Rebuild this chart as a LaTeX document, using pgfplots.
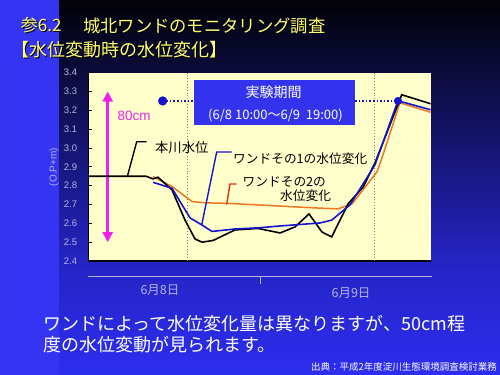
\documentclass[border=0pt]{standalone}
\usepackage{pgfplots}
\pgfplotsset{compat=1.18}
\usetikzlibrary{arrows.meta}
\usepackage{fontspec}
\setmainfont{Liberation Sans}
\newfontfamily\jp{Noto Sans CJK JP}
\definecolor{chartbg}{HTML}{FFFFCC}
\definecolor{ticklab}{HTML}{B4B4E6}
\definecolor{boxblue}{HTML}{3333EE}
\definecolor{sorange}{HTML}{EE7722}
\definecolor{sblue}{HTML}{1414CC}
\definecolor{amag}{HTML}{F020E8}
\definecolor{tyellow}{HTML}{FFFF70}
\definecolor{bgtop}{HTML}{020208}
\definecolor{bgdark}{HTML}{0A0A3C}
\definecolor{bgmid}{HTML}{2424C4}
\definecolor{bgbot}{HTML}{2D2DF0}
\definecolor{stripA}{HTML}{3434F2}
\definecolor{stripB}{HTML}{1E1EA0}
\definecolor{sq}{HTML}{3C3CE8}
\definecolor{leadred}{HTML}{E03010}
\newcommand{\fs}[1]{\fontsize{#1bp}{#1bp}\selectfont}
\begin{document}
\begin{tikzpicture}
\useasboundingbox (0,0) rectangle (500bp,-375bp);
\begin{scope}[x=1bp,y=-1bp]
% background
\shade[top color=bgtop, middle color=bgdark, bottom color=bgmid] (58,0) rectangle (500,261);
\shade[top color=bgmid, bottom color=bgbot] (58,260.5) rectangle (500,375);
\shade[top color=stripA, middle color=stripB, bottom color=stripA] (0,0) rectangle (58.5,375);
\foreach \i in {0,...,20} {\fill[sq, opacity=0.35] (4,{66+\i*12}) rectangle ++(8,8);}
% title
\node[anchor=west, inner sep=0, text=black] at (21.7,26.5) {\jp\fs{17}参6.2};
\node[anchor=west, inner sep=0, text=tyellow] at (20.7,25.5) {\jp\fs{17}参6.2};
\node[anchor=west, inner sep=0, text=black] at (84,26.5) {\jp\fs{17.3}城北ワンドのモニタリング調査};
\node[anchor=west, inner sep=0, text=tyellow] at (83,25.5) {\jp\fs{17.3}城北ワンドのモニタリング調査};
\node[anchor=west, inner sep=0, text=black] at (12,51) {\jp\fs{18}【水位変動時の水位変化】};
\node[anchor=west, inner sep=0, text=tyellow] at (11,50) {\jp\fs{18}【水位変動時の水位変化】};
\end{scope}
\begin{axis}[
  at={(88.3bp,-261bp)}, anchor=south west,
  width=342.4bp, height=188.3bp, scale only axis,
  xmin=0, xmax=48, ymin=2.4, ymax=3.4,
  axis background/.style={fill=chartbg},
  axis x line*=bottom, axis y line*=left,
  axis line style={black, line width=1.2pt},
  xtick=\empty, minor xtick={0,3,...,48},
  ytick={2.4,2.5,2.6,2.7,2.8,2.9,3.0,3.1,3.2,3.3,3.4},
  tick align=inside, major tick length=3.5bp, minor tick length=3.5bp,
  tick style={black, line width=0.8pt},
  /pgf/number format/assume math mode=true,
  yticklabel style={font=\fs{9.5}, text=ticklab, inner sep=0pt, xshift=-11bp,
    /pgf/number format/fixed, /pgf/number format/precision=1, /pgf/number format/fixed zerofill},
]
\draw[gray, dotted, line width=0.9pt] (axis cs:13.93,2.4) -- (axis cs:13.93,3.4);
\draw[gray, dotted, line width=0.9pt] (axis cs:40.05,2.4) -- (axis cs:40.05,3.4);
% magenta arrow (80cm)
\addplot[amag, line width=3.2pt, {Triangle[width=10bp,length=10bp]}-{Triangle[width=10bp,length=10bp]}] coordinates {(2.72,2.5) (2.72,3.3)};
% experiment period markers
\addplot[sblue, dotted, line width=1.6pt, mark=*, mark size=3.8bp, mark indices={1}, mark options={solid, fill=sblue}] coordinates {(10.43,3.25) (14.82,3.25)};
\addplot[sblue, dotted, line width=1.6pt] coordinates {(37.39,3.25) (43.42,3.25)};
% series
\addplot[sorange, line width=1.5pt] coordinates {
(9.07,2.849) (11.73,2.796) (14.54,2.716) (16.36,2.709) (19.58,2.706) (31.78,2.682)
(35.0,2.677) (36.97,2.703) (40.47,2.873) (41.17,2.948) (43.69,3.240) (48,3.19)};
\addplot[black, line width=1.6pt] coordinates {
(0,2.85) (8.1,2.85) (9.07,2.836) (9.77,2.845) (11.73,2.778) (13.55,2.618) (14.96,2.517)
(15.94,2.500) (17.48,2.509) (20.57,2.565) (23.79,2.573) (26.88,2.549) (28.98,2.581)
(30.94,2.650) (32.76,2.554) (34.12,2.528) (36.41,2.703) (38.55,2.794) (40.19,2.921)
(43.94,3.283) (48,3.235)};
\addplot[sblue, line width=1.6pt] coordinates {
(9.07,2.818) (11.73,2.786) (14.26,2.629) (15.94,2.591) (17.34,2.557) (20.57,2.570)
(23.79,2.576) (26.87,2.586) (29.68,2.594) (32.48,2.602) (34.12,2.617) (36.69,2.698)
(40.19,2.911) (43.41,3.251) (48,3.203)};
\addplot[sblue, only marks, mark=*, mark size=3.8bp] coordinates {(43.42,3.25)};
\end{axis}
\begin{scope}[x=1bp,y=-1bp]
% period box
\fill[boxblue] (194,80) rectangle (355,125);
\node[text=white, inner sep=0] at (273.5,92) {\jp\fs{14}実験期間};
\node[text=white, inner sep=0] at (275.5,115) {\jp\fs{13}(6/8 10:00〜6/9\ \ 19:00)};
% 80cm label
\node[anchor=west, inner sep=0, text=amag] at (117.5,115.5) {\fs{13.5}80cm};
% leaders and labels
\draw[black, line width=1.4pt] (127.3,176.7) -- (136.7,141.7) -- (146.7,141.7);
\node[anchor=west, inner sep=0] at (155,147.5) {\jp\fs{13.3}本川水位};
\draw[sblue, line width=1.4pt] (201.7,225) -- (216.7,152) -- (231.7,152);
\node[anchor=west, inner sep=0] at (233,159) {\jp\fs{12.7}ワンドその1の水位変化};
\draw[leadred, line width=1.4pt] (226.7,204.5) -- (230,184) -- (236.7,184);
\node[anchor=west, inner sep=0] at (242.5,181.5) {\jp\fs{12.7}ワンドその2の};
\node[anchor=west, inner sep=0] at (280,196) {\jp\fs{12.7}水位変化};
% y label
\node[rotate=90, text=ticklab, inner sep=0] at (54,167) {\fs{10}(O.P+m)};
% date axis
\draw[ticklab, line width=0.9pt] (88,276.7) -- (432,276.7);
\draw[ticklab, line width=0.9pt] (260,276.7) -- (260,283.5);
\node[text=ticklab, inner sep=0] at (160,290) {\jp\fs{12.5}6月8日};
\node[text=ticklab, inner sep=0] at (351,293) {\jp\fs{12.5}6月9日};
% bottom text
\node[anchor=west, inner sep=0, text=white] at (43,323.5) {\jp\fs{18}ワンドによって水位変化量は異なりますが、50cm程};
\node[anchor=west, inner sep=0, text=white] at (43,345) {\jp\fs{18}度の水位変動が見られます。};
\node[anchor=east, inner sep=0, text=white] at (497,366.5) {\jp\fs{9.5}出典：平成2年度淀川生態環境調査検討業務};
\end{scope}
\end{tikzpicture}
\end{document}
